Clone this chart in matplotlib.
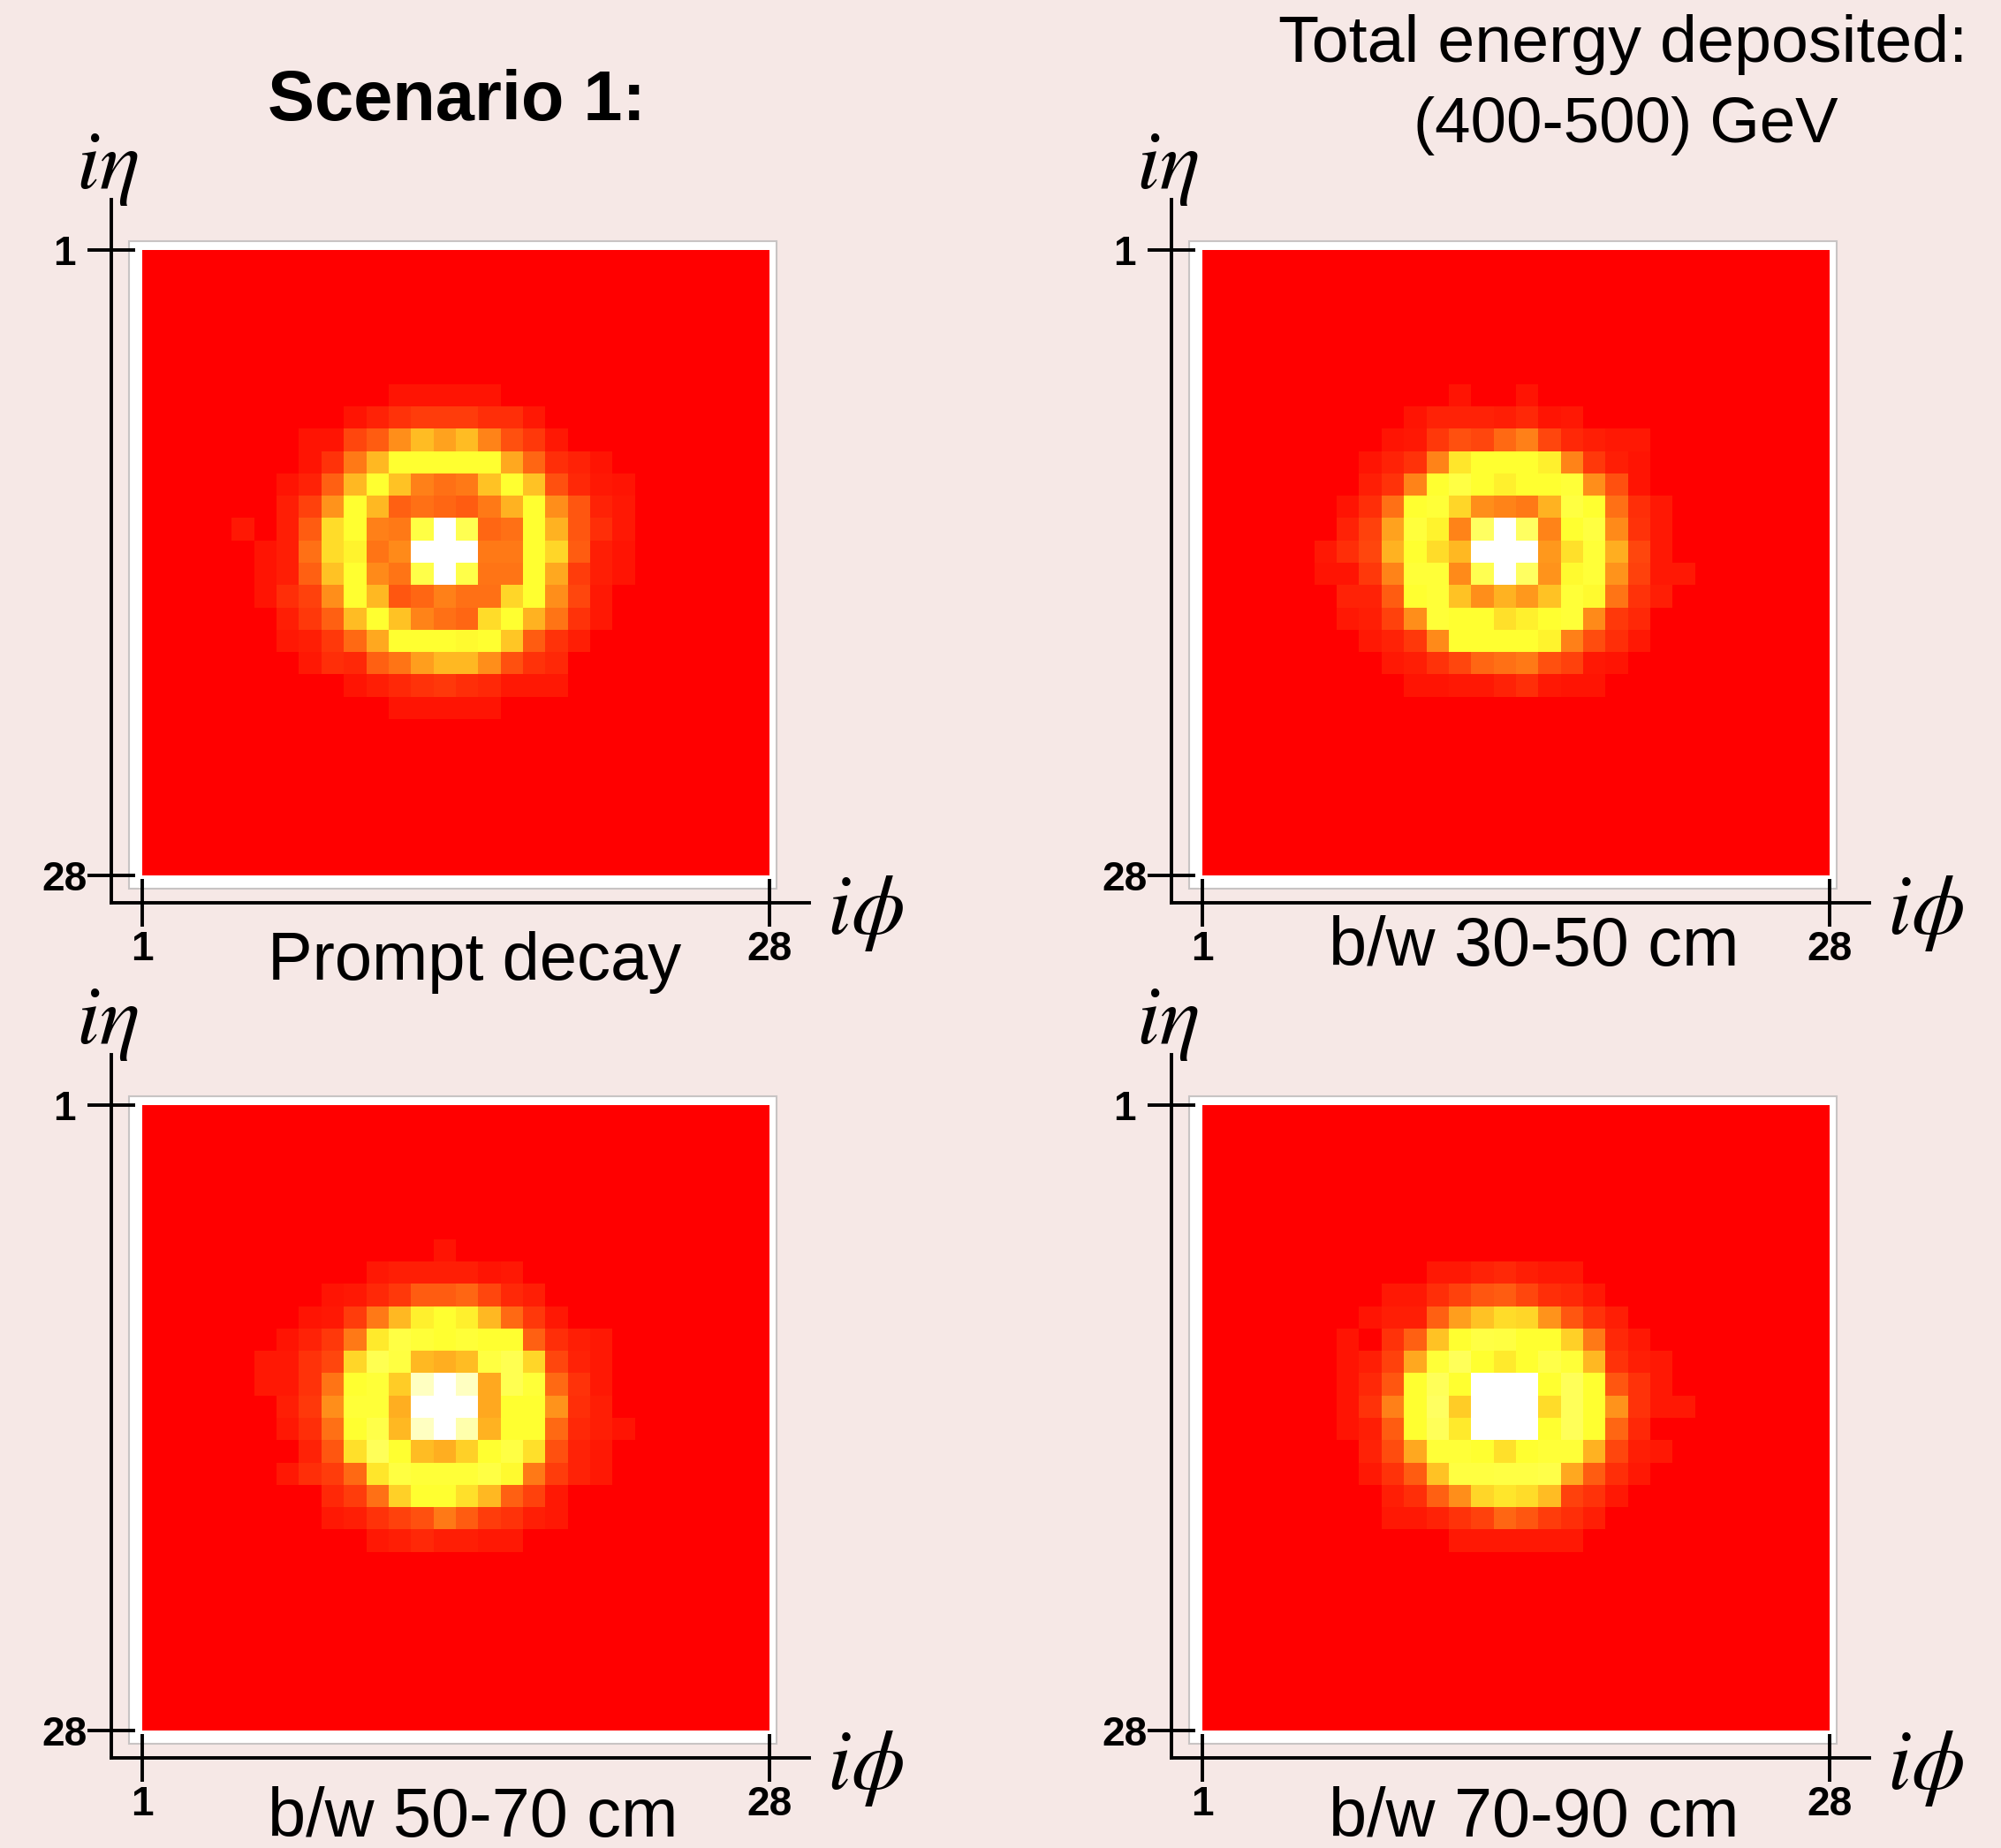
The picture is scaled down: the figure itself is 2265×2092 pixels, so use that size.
import matplotlib
matplotlib.use('Agg')
import matplotlib.pyplot as plt
from matplotlib.colors import LinearSegmentedColormap
from matplotlib.patches import Rectangle
import numpy as np

plt.rcParams['font.family'] = ['Liberation Sans', 'DejaVu Sans']
plt.rcParams['mathtext.fontset'] = 'stix'

W, H = 2265, 2092

# each row: row index -> (first column, cell values), everything else is 0
prompt_rows = {
    6: (11, [4, 4, 4, 4, 4]),
    7: (9, [4, 7, 10, 12, 12, 12, 9, 9, 5]),
    8: (7, [4, 4, 14, 18, 28, 37, 32, 37, 26, 16, 11, 5]),
    9: (7, [4, 10, 24, 36, 50, 50, 50, 50, 50, 33, 20, 9, 7, 4]),
    10: (6, [4, 7, 19, 36, 50, 38, 25, 22, 24, 38, 50, 38, 16, 8, 5, 4]),
    11: (6, [6, 13, 29, 50, 36, 19, 22, 20, 18, 24, 35, 50, 28, 17, 7, 5]),
    12: (4, [5, 0, 6, 18, 43, 50, 25, 24, 55, 100, 58, 20, 22, 50, 35, 17, 9, 5]),
    13: (5, [4, 6, 22, 43, 48, 23, 27, 100, 100, 100, 24, 24, 50, 42, 18, 6, 4]),
    14: (5, [4, 6, 19, 38, 50, 27, 23, 56, 100, 56, 23, 23, 50, 33, 12, 6, 4]),
    15: (5, [4, 9, 13, 28, 50, 36, 17, 20, 25, 22, 22, 42, 50, 28, 14, 5]),
    16: (6, [6, 11, 19, 37, 50, 38, 26, 22, 20, 43, 50, 35, 23, 10, 5]),
    17: (6, [5, 6, 11, 21, 33, 50, 50, 50, 49, 50, 39, 18, 10, 6]),
    18: (7, [5, 9, 8, 19, 23, 31, 36, 36, 28, 16, 10, 8]),
    19: (9, [4, 6, 8, 10, 11, 9, 8, 5, 5, 5]),
    20: (11, [4, 4, 4, 4, 4]),
}

cm30_50_rows = {
    6: (11, [4, 0, 0, 4]),
    7: (9, [4, 7, 7, 7, 6, 8, 4, 5]),
    8: (8, [4, 5, 11, 16, 14, 21, 25, 14, 8, 6, 5, 5]),
    9: (7, [4, 7, 10, 26, 45, 50, 50, 50, 47, 26, 11, 6, 4]),
    10: (7, [6, 10, 26, 50, 55, 50, 47, 50, 50, 52, 28, 16, 4]),
    11: (6, [4, 9, 22, 50, 52, 42, 28, 26, 24, 35, 54, 50, 22, 9, 5]),
    12: (6, [7, 13, 32, 53, 48, 26, 62, 100, 62, 26, 50, 54, 27, 10, 5]),
    13: (5, [5, 9, 14, 35, 50, 43, 36, 100, 100, 100, 30, 44, 52, 34, 14, 5]),
    14: (5, [4, 4, 11, 26, 52, 52, 27, 58, 100, 62, 29, 49, 52, 29, 13, 5, 5]),
    15: (6, [7, 7, 18, 50, 52, 38, 28, 35, 30, 38, 52, 49, 23, 10, 6]),
    16: (6, [5, 6, 13, 28, 52, 50, 50, 44, 47, 50, 52, 27, 11, 8]),
    17: (7, [5, 7, 11, 27, 50, 50, 50, 50, 48, 25, 15, 9, 5]),
    18: (8, [5, 6, 10, 14, 20, 22, 24, 16, 13, 5, 4]),
    19: (9, [4, 4, 5, 5, 7, 9, 5, 4, 4]),
}

cm50_70_rows = {
    6: (13, [4]),
    7: (10, [5, 6, 6, 6, 6, 4, 5]),
    8: (8, [4, 5, 8, 11, 18, 18, 20, 14, 8, 6]),
    9: (7, [4, 5, 12, 24, 36, 47, 50, 47, 36, 21, 11, 5]),
    10: (6, [4, 7, 11, 24, 46, 55, 52, 50, 52, 50, 50, 19, 9, 6, 5]),
    11: (5, [5, 5, 10, 14, 42, 58, 54, 36, 34, 37, 54, 58, 42, 14, 7, 5]),
    12: (5, [5, 5, 10, 23, 50, 52, 40, 85, 100, 85, 33, 58, 52, 21, 10, 5]),
    13: (6, [6, 11, 28, 52, 52, 34, 100, 100, 100, 33, 50, 50, 29, 9, 6]),
    14: (6, [5, 9, 22, 50, 56, 36, 85, 100, 80, 35, 50, 50, 21, 8, 6, 4]),
    15: (7, [7, 17, 44, 60, 50, 37, 34, 41, 50, 55, 44, 16, 7, 5]),
    16: (6, [5, 9, 12, 21, 45, 54, 52, 52, 52, 55, 49, 24, 12, 7, 5]),
    17: (8, [8, 12, 22, 41, 50, 50, 44, 36, 19, 13, 5]),
    18: (8, [5, 6, 10, 13, 16, 24, 18, 12, 10, 6, 5]),
    19: (10, [5, 6, 8, 6, 6, 5, 5]),
}

cm70_90_rows = {
    7: (10, [5, 5, 7, 8, 6, 5, 5]),
    8: (8, [5, 5, 9, 13, 17, 18, 14, 9, 8, 5]),
    9: (7, [4, 6, 6, 19, 31, 38, 43, 42, 29, 17, 10, 6]),
    10: (6, [4, 0, 10, 19, 38, 50, 55, 54, 50, 50, 41, 24, 8, 5]),
    11: (6, [4, 6, 13, 33, 52, 60, 50, 46, 50, 56, 52, 36, 10, 6, 5]),
    12: (6, [4, 8, 17, 50, 60, 50, 100, 100, 100, 50, 60, 50, 17, 10, 5]),
    13: (6, [4, 10, 25, 50, 62, 40, 100, 100, 100, 43, 60, 50, 29, 10, 5, 5]),
    14: (6, [4, 6, 18, 50, 60, 46, 100, 100, 100, 50, 60, 50, 20, 8]),
    15: (7, [7, 15, 33, 52, 52, 50, 44, 50, 52, 52, 35, 14, 6, 5]),
    16: (7, [5, 10, 18, 38, 54, 54, 55, 55, 56, 33, 18, 9, 5]),
    17: (8, [6, 9, 19, 28, 42, 45, 43, 37, 13, 10, 5]),
    18: (8, [5, 5, 7, 10, 13, 20, 17, 12, 9, 6]),
    19: (11, [5, 5, 5, 5, 5, 5]),
}

panels = [prompt_rows, cm30_50_rows, cm50_70_rows, cm70_90_rows]
tick_labels = ['1', '28']

# red -> yellow -> white, same look as the ROOT palette
cmap = LinearSegmentedColormap.from_list('ryw', ['#ff0000', '#ffff30', '#ffffff'])

BG = '#f6e8e6'
fig = plt.figure(figsize=(W / 100, H / 100), dpi=100, facecolor=BG)


def px_text(x, y, s, **kw):
    fig.text(x / W, 1 - y / H, s, **kw)


def grid_of(rows):
    g = np.zeros((28, 28))
    for r, (start, vals) in rows.items():
        g[r, start:start + len(vals)] = vals
    return g


LEFT = [160.7, 1360.7]
TOP = [282.7, 1250.7]
SIZE_X, SIZE_Y = 710.0, 708.0

for n, rows in enumerate(panels):
    x0 = LEFT[n % 2]
    y0 = TOP[n // 2]
    ax = fig.add_axes([x0 / W, 1 - (y0 + SIZE_Y) / H, SIZE_X / W, SIZE_Y / H])
    ax.patch.set_visible(False)
    ax.imshow(grid_of(rows), cmap=cmap, vmin=0, vmax=100, extent=(1, 28, 28, 1),
              interpolation='nearest', aspect='auto')
    ax.set_xlim(1, 28)
    ax.set_ylim(28, 1)

    # px -> data along each axis
    dx = 27 / SIZE_X
    dy = 27 / SIZE_Y

    # white frame around the map
    ax.add_patch(Rectangle((1 - 15 * dx, 1 - 10 * dy), 27 + 23 * dx, 27 + 25 * dy, facecolor='white',
                           edgecolor='#c8c4c4', linewidth=1.5, clip_on=False, zorder=-1))

    for s in ['top', 'right']:
        ax.spines[s].set_visible(False)
    ax.spines['left'].set_position(('outward', 35 * 0.72))
    ax.spines['bottom'].set_position(('outward', 31 * 0.72))
    ax.spines['left'].set_bounds(28 + 31 * dy, 1 - 57 * dy)
    ax.spines['bottom'].set_bounds(1 - 35 * dx, 28 + 45 * dx)
    ax.spines['left'].set_linewidth(2.8)
    ax.spines['bottom'].set_linewidth(2.8)

    ax.set_xticks([1, 28], tick_labels)
    ax.set_yticks([1, 28], tick_labels)
    ax.tick_params(axis='both', direction='inout', length=39.4, width=2.8, labelsize=33)
    ax.tick_params(axis='x', pad=3)
    ax.tick_params(axis='y', pad=18)
    for lab in ax.get_xticklabels() + ax.get_yticklabels():
        lab.set_fontweight('bold')
    for lab in ax.get_yticklabels():
        lab.set_ha('center')

    px_text(x0 - 75, y0 - 70, r'$i\eta$', fontsize=69, ha='left', va='baseline')
    px_text(x0 + 775, y0 + 774, r'$i\phi$', fontsize=70, ha='left', va='baseline')

px_text(303, 136, 'Scenario 1:', fontsize=57.2, fontweight='bold', ha='left', va='baseline')
px_text(1837, 70, 'Total energy deposited:', fontsize=54.3, ha='center', va='baseline')
px_text(1840, 161, '(400-500) GeV', fontsize=52.3, ha='center', va='baseline')
px_text(303, 1109, 'Prompt decay', fontsize=54.6, ha='left', va='baseline')
px_text(1504, 1093, 'b/w 30-50 cm', fontsize=55.7, ha='left', va='baseline')
px_text(303, 2079, 'b/w 50-70 cm', fontsize=55.7, ha='left', va='baseline')
px_text(1504, 2079, 'b/w 70-90 cm', fontsize=55.7, ha='left', va='baseline')

fig.savefig('out.png', dpi=100, facecolor=BG)
